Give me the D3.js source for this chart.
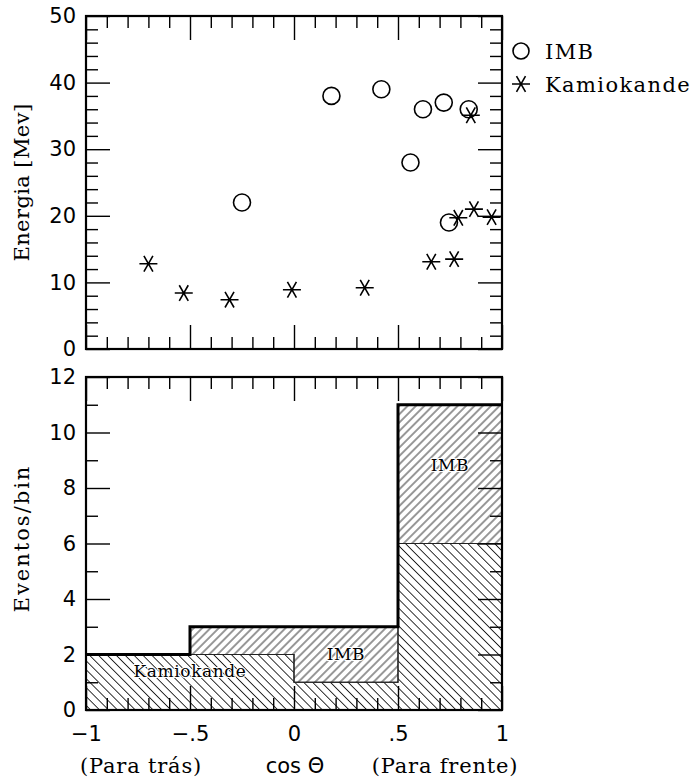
<!DOCTYPE html>
<html>
<head>
<meta charset="utf-8">
<script src="https://cdn.jsdelivr.net/npm/d3@7"></script>
<style>
  body { margin: 0; background: #fff; }
  text { fill: #000; }
</style>
</head>
<body>
<div id="canvas"></div>
<script>
// scatter data: cos(theta) and energy of each event
const imbCos    = [-0.25, 0.18, 0.42, 0.56, 0.62, 0.72, 0.745, 0.84];
const imbEnergy = [22, 38, 39, 28, 36, 37, 19, 36];
const kamCos    = [-0.70, -0.53, -0.31, -0.01, 0.34, 0.66, 0.77, 0.79, 0.85, 0.865, 0.95];
const kamEnergy = [12.8, 8.4, 7.4, 8.9, 9.2, 13.1, 13.5, 19.7, 35.1, 21, 19.8];

// histogram: bin edges and counts per bin
const binEdges  = [-1, -0.5, 0, 0.5, 1];
const kamCounts = [2, 2, 1, 6];
const imbCounts = [0, 1, 2, 5];

// tick labels
const xTickValues = [-1, -0.5, 0, 0.5, 1];
const xTickLabels = ["\u22121", "\u2212.5", "0", ".5", "1"];
const energyTicks = [0, 10, 20, 30, 40, 50];
const countTicks  = [0, 2, 4, 6, 8, 10, 12];

// text labels inside the histogram (data coords)
const histLabels = [
  {text: "Kamiokande", x: -0.5, y: 1.2},
  {text: "IMB", x: 0.25, y: 1.8},
  {text: "IMB", x: 0.75, y: 8.6}
];

const serif = "'DejaVu Serif', serif",
      sans = "'DejaVu Sans', sans-serif";

const svg = d3.select("#canvas")
  .append("svg")
  .attr("width", 697)
  .attr("height", 782);

// scales
const x = d3.scaleLinear().domain([-1, 1]).range([86, 502]);
const yE = d3.scaleLinear().domain([0, 50]).range([349, 16]);
const yN = d3.scaleLinear().domain([0, 12]).range([710, 377]);

// hatch patterns
const defs = svg.append("defs");
function hatch(id, angle, gap) {
  defs.append("pattern")
    .attr("id", id)
    .attr("patternUnits", "userSpaceOnUse")
    .attr("width", gap)
    .attr("height", gap)
    .attr("patternTransform", "rotate(" + angle + ")")
    .append("line")
    .attr("x1", gap / 2).attr("y1", 0)
    .attr("x2", gap / 2).attr("y2", gap)
    .attr("stroke", "#000")
    .attr("stroke-width", 0.8);
}
hatch("hatchKam", -45, 6.3);
hatch("hatchImb", 45, 5.9);

// ---- histogram areas (drawn before frame so ticks sit on top)
const stepData = binEdges.map((e, i) => {
  const j = Math.min(i, kamCounts.length - 1);
  return {edge: e, kam: kamCounts[j], tot: kamCounts[j] + imbCounts[j]};
});

const hist = svg.append("g");
hist.append("path")
  .datum(stepData)
  .attr("fill", "url(#hatchKam)")
  .attr("stroke", "#222")
  .attr("stroke-width", 1.1)
  .attr("d", d3.area().curve(d3.curveStepAfter)
    .x(d => x(d.edge)).y0(yN(0)).y1(d => yN(d.kam)));

hist.append("path")
  .datum(stepData)
  .attr("fill", "url(#hatchImb)")
  .attr("stroke", "#222")
  .attr("stroke-width", 1.1)
  .attr("d", d3.area().curve(d3.curveStepAfter)
    .x(d => x(d.edge)).y0(d => yN(d.kam)).y1(d => yN(d.tot)));

// thick outline of the total
hist.append("path")
  .datum(stepData)
  .attr("fill", "none")
  .attr("stroke", "#000")
  .attr("stroke-width", 3)
  .attr("d", d3.line().curve(d3.curveStepAfter)
    .x(d => x(d.edge)).y(d => yN(d.tot)));

hist.selectAll(".hl")
  .data(histLabels)
  .join("text")
  .attr("x", d => x(d.x))
  .attr("y", d => yN(d.y))
  .attr("text-anchor", "middle")
  .attr("font-family", serif)
  .attr("font-size", 17)
  .attr("letter-spacing", 0.6)
  .attr("stroke", "#fff")
  .attr("stroke-width", 2)
  .attr("paint-order", "stroke")
  .text(d => d.text);

// ---- frames with inward ticks
const minorX = d3.range(-10, 11).map(i => i / 10).filter(v => Math.abs(v * 2 - Math.round(v * 2)) > 1e-9);

function frame(y, majorY, minorY, showX) {
  const g = svg.append("g");
  const [yb, yt] = y.range();
  const [x0, x1] = x.range();
  const major = 24, minor = 12;

  g.append("g").attr("transform", "translate(" + x0 + ",0)")
    .call(d3.axisLeft(y).tickValues(majorY).tickSize(-major).tickPadding(10).tickFormat(d3.format("d")));
  g.append("g").attr("transform", "translate(" + x0 + ",0)")
    .call(d3.axisLeft(y).tickValues(minorY).tickSize(-minor).tickFormat(""));
  g.append("g").attr("transform", "translate(" + x1 + ",0)")
    .call(d3.axisRight(y).tickValues(majorY).tickSize(-major).tickFormat(""));
  g.append("g").attr("transform", "translate(" + x1 + ",0)")
    .call(d3.axisRight(y).tickValues(minorY).tickSize(-minor).tickFormat(""));

  g.append("g").attr("transform", "translate(0," + yt + ")")
    .call(d3.axisTop(x).tickValues(xTickValues).tickSize(-major).tickFormat(""));
  g.append("g").attr("transform", "translate(0," + yt + ")")
    .call(d3.axisTop(x).tickValues(minorX).tickSize(-minor).tickFormat(""));
  const bx = g.append("g").attr("transform", "translate(0," + yb + ")")
    .call(d3.axisBottom(x).tickValues(xTickValues).tickSize(-major)
      .tickFormat((d, i) => showX ? xTickLabels[i] : ""));
  g.append("g").attr("transform", "translate(0," + yb + ")")
    .call(d3.axisBottom(x).tickValues(minorX).tickSize(-minor).tickFormat(""));

  if (showX) bx.selectAll("text").attr("y", 31).attr("dy", 0);

  g.selectAll(".domain").remove();
  g.selectAll(".tick line").attr("stroke", "#000").attr("stroke-width", 1.4);
  g.selectAll("text")
    .attr("font-family", sans)
    .attr("font-size", 21)
    .attr("fill", "#000");

  g.append("rect")
    .attr("x", x0).attr("y", yt)
    .attr("width", x1 - x0).attr("height", yb - yt)
    .attr("fill", "none")
    .attr("stroke", "#000")
    .attr("stroke-width", 2.2);
}

frame(yE, energyTicks, d3.range(0, 51, 2).filter(v => v % 10 !== 0), false);
frame(yN, countTicks, d3.range(1, 12, 2), true);

// ---- scatter points
const starPath = "M-9,0L9,0M-4.5,-7.8L4.5,7.8M4.5,-7.8L-4.5,7.8";

svg.append("g")
  .selectAll("circle")
  .data(imbCos)
  .join("circle")
  .attr("cx", d => x(d))
  .attr("cy", (d, i) => yE(imbEnergy[i]))
  .attr("r", 8.5)
  .attr("fill", "none")
  .attr("stroke", "#000")
  .attr("stroke-width", 1.6);

svg.append("g")
  .selectAll("path")
  .data(kamCos)
  .join("path")
  .attr("transform", (d, i) => "translate(" + x(d) + "," + yE(kamEnergy[i]) + ")")
  .attr("d", starPath)
  .attr("stroke", "#000")
  .attr("stroke-width", 1.6);

// ---- legend
const legend = svg.append("g").attr("font-family", serif).attr("font-size", 21).attr("letter-spacing", 1.4);
legend.append("circle").attr("cx", 521).attr("cy", 51).attr("r", 8)
  .attr("fill", "none").attr("stroke", "#000").attr("stroke-width", 1.6);
legend.append("text").attr("x", 545).attr("y", 59).text("IMB");
legend.append("path").attr("transform", "translate(521,84)").attr("d", starPath)
  .attr("stroke", "#000").attr("stroke-width", 1.6);
legend.append("text").attr("x", 545).attr("y", 92).text("Kamiokande");

// ---- axis titles
svg.append("text")
  .attr("transform", "translate(29," + (yE(25)) + ") rotate(-90)")
  .attr("text-anchor", "middle")
  .attr("font-family", serif)
  .attr("font-size", 21)
  .attr("letter-spacing", 0.4)
  .attr("fill", "#000")
  .text("Energia [Mev]");

svg.append("text")
  .attr("transform", "translate(29," + (yN(6) - 5) + ") rotate(-90)")
  .attr("text-anchor", "middle")
  .attr("font-family", serif)
  .attr("font-size", 21)
  .attr("letter-spacing", 2)
  .attr("fill", "#000")
  .text("Eventos/bin");

const caption = svg.append("g").attr("font-size", 21).attr("text-anchor", "middle");
caption.append("text").attr("x", 141).attr("y", 773).attr("font-family", serif).attr("letter-spacing", 0.8).text("(Para trás)");
caption.append("text").attr("x", 295).attr("y", 773).attr("font-family", sans).text("cos \u0398");
caption.append("text").attr("x", 445).attr("y", 773).attr("font-family", serif).attr("letter-spacing", 0.8).text("(Para frente)");
</script>
</body>
</html>
